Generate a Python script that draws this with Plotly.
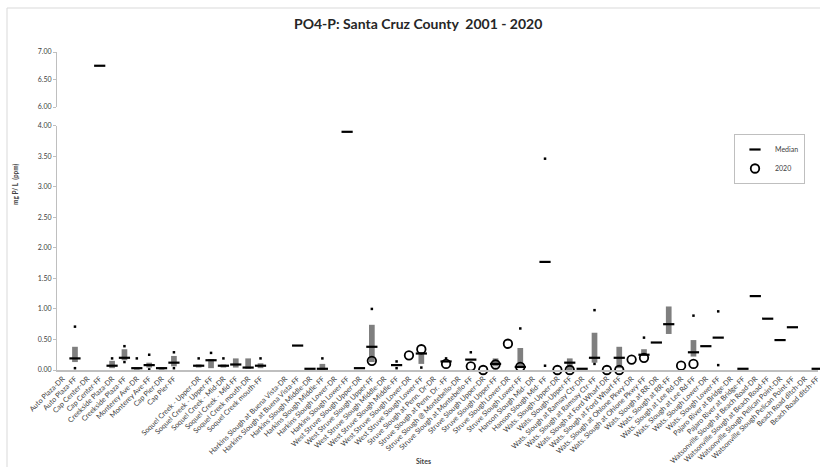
import plotly.graph_objects as go

N = None

sites = [
    "Auto Plaza-DR", "Auto Plaza-FF", "Cap Center-DR", "Cap Center-FF",
    "Creekside Plaza-DR", "Creekside Plaza-FF", "Monterey Ave-DR", "Monterey Ave-FF",
    "Cap Pier-DR", "Cap Pier-FF", " ",
    "Soquel Creek - Upper-DR", "Soquel Creek - Upper-FF", "Soquel Creek - Mid-DR",
    "Soquel Creek - Mid-FF", "Soquel Creek mouth-DR", "Soquel Creek mouth-FF", "  ",
    "Harkins Slough at Buena Vista-DR", "Harkins Slough at Buena Vista-FF",
    "Harkins Slough Middle-DR", "Harkins Slough Middle-FF",
    "Harkins Slough Lower-DR", "Harkins Slough Lower-FF",
    "West Struve Slough Upper-DR", "West Struve Slough Upper-FF",
    "West Struve Slough Middle-DR", "West Struve Slough Middle-FF",
    "West Struve Slough Lower-DR", "West Struve Slough Lower-FF",
    "Struve Slough at Penn. Dr-DR", "Struve Slough at Penn. Dr. -FF",
    "Struve Slough @ Montebello-DR", "Struve Slough at Montebello-FF",
    "Struve Slough Upper-DR", "Struve Slough Upper-FF",
    "Struve Slough Lower-DR", "Struve Slough Lower-FF",
    "Hanson Slough Mid- DR", "Hanson Slough Mid- FF",
    "Wats. Slough-Upper-DR", "Wats. Slough-Upper-FF",
    "Wats. Slough at Ramsay Ctr-DR", "Wats. Slough at Ramsay Ctr-FF",
    "Wats. Slough at Ford Wharf-DR", "Wats. Slough at Ford Wharf-FF",
    "Wats. Slough at Ohlone Pkwy-DR", "Wats. Slough at Ohlone Pkwy-FF",
    "Wats. Slough at RR-DR", "Wats. Slough at RR-FF",
    "Wats. Slough at Lee Rd-DR", "Wats. Slough at Lee Rd-FF",
    "Wats. Slough Lower-DR", "Wats. Slough Lower-FF",
    "Pajaro River at Bridge-DR", "Pajaro River at Bridge-FF",
    "Watsonville Slough at Beach Road-DR", "Watsonville Slough at Beach Road-FF",
    "Watsonville Slough Pelican Point-DR", "Watsonville Slough Pelican Point-FF",
    "Beach Road ditch-DR", "Beach Road ditch-FF",
]

median = [
    N, 0.19, N, 6.75, 0.07, 0.20, 0.03, 0.08, 0.03, 0.12, N,
    0.07, 0.16, 0.07, 0.09, 0.04, 0.07, N,
    N, 0.40, 0.02, 0.02, N, 3.90,
    0.03, 0.38, N, 0.08, N, 0.27,
    N, 0.14, N, 0.17, N, 0.10, N, 0.05,
    N, 1.77,
    N, 0.12, 0.02, 0.20, N, 0.20, N, 0.25, 0.45, 0.75, N, 0.29, 0.39, 0.53,
    N, 0.02, 1.21, 0.84, 0.49, 0.70, N, 0.02,
]

q1 = [
    N, 0.13, N, N, 0.03, 0.16, 0.01, 0.04, 0.01, 0.06, N,
    0.04, 0.03, 0.04, 0.04, 0.02, 0.03, N,
    N, N, N, 0.00, N, N,
    N, 0.13, N, N, N, 0.10,
    N, N, N, N, N, 0.06, N, 0.04,
    N, N,
    N, 0.00, N, 0.12, N, 0.03, N, 0.24, N, 0.59, N, 0.22, N, N,
    N, N, N, N, N, N, N, N,
]

q3 = [
    N, 0.38, N, N, 0.15, 0.34, 0.04, 0.12, 0.04, 0.23, N,
    0.09, 0.18, 0.09, 0.19, 0.19, 0.11, N,
    N, N, N, 0.10, N, N,
    N, 0.74, N, N, N, 0.29,
    N, N, N, N, N, 0.19, N, 0.36,
    N, N,
    N, 0.19, N, 0.61, N, 0.38, N, 0.34, N, 1.04, N, 0.49, N, N,
    N, N, N, N, N, N, N, N,
]

max_v = [
    N, 0.71, N, N, 0.19, 0.39, 0.19, 0.25, N, 0.29, N,
    0.19, 0.28, 0.19, N, N, 0.19, N,
    N, N, N, 0.19, N, N,
    N, 1.00, N, 0.14, N, N,
    N, 0.19, N, 0.29, N, N, N, 0.68,
    N, 3.46,
    N, N, N, 0.98, N, N, N, 0.53, N, N, N, 0.89, N, 0.96,
    N, N, N, N, N, N, N, N,
]

min_v = [
    N, 0.03, N, N, N, 0.13, N, 0.01, N, 0.03, N,
    N, N, N, N, N, N, N,
    N, N, N, N, N, N,
    N, N, N, 0.03, N, 0.04,
    N, N, N, N, N, N, N, N,
    N, 0.07,
    N, N, N, 0.10, N, N, N, N, N, N, N, N, N, 0.08,
    N, N, N, N, N, N, N, N,
]

y2020 = [
    N, N, N, N, N, N, N, N, N, N, N,
    N, N, N, N, N, N, N,
    N, N, N, N, N, N,
    N, 0.15, N, N, 0.24, 0.34,
    N, 0.10, N, 0.06, 0.00, 0.09, 0.43, 0.05,
    N, N,
    0.00, 0.00, N, N, 0.00, 0.00, 0.17, 0.20, N, N, 0.07, 0.10, N, N,
    N, N, N, N, N, N, N, N,
]

BREAK = 5.0
FONT = "Lato, Carlito, Calibri, sans-serif"

W, H = 820, 467
L, R = 57, 2
PW = W - L - R


def px_x(p):
    return (p - L) / PW


def px_y(p):
    return (H - p) / H


fig = go.Figure()

# interquartile bars
bx = [s for s, a, b in zip(sites, q1, q3) if a is not None and b is not None]
bb = [a for a, b in zip(q1, q3) if a is not None and b is not None]
bh = [b - a for a, b in zip(q1, q3) if a is not None and b is not None]
fig.add_trace(go.Bar(x=bx, y=bh, base=bb, width=0.46, marker=dict(color="#7f7f7f", line=dict(width=0)),
                     showlegend=False, hoverinfo="skip"))

# min / max dots
for arr in (max_v, min_v):
    xs = [s for s, v in zip(sites, arr) if v is not None]
    ys = [v for v in arr if v is not None]
    fig.add_trace(go.Scatter(x=xs, y=ys, mode="markers", showlegend=False, cliponaxis=False,
                             marker=dict(symbol="square", size=2.5, color="black")))

# medians (lower panel)
mx = [s for s, v in zip(sites, median) if v is not None and v < BREAK]
my = [v for v in median if v is not None and v < BREAK]
med_marker = dict(symbol="line-ew", size=8, color="black", line=dict(width=2.2, color="black"))
fig.add_trace(go.Scatter(x=mx, y=my, mode="markers", name="Median", cliponaxis=False,
                         marker=med_marker))
# medians (upper panel)
ux = [s for s, v in zip(sites, median) if v is not None and v >= BREAK]
uy = [v for v in median if v is not None and v >= BREAK]
fig.add_trace(go.Scatter(x=ux, y=uy, mode="markers", name="Median", showlegend=False, yaxis="y2",
                         cliponaxis=False, marker=med_marker))

# 2020 values
cx = [s for s, v in zip(sites, y2020) if v is not None]
cy = [v for v in y2020 if v is not None]
fig.add_trace(go.Scatter(x=cx, y=cy, mode="markers", name="2020", cliponaxis=False,
                         marker=dict(symbol="circle-open", size=8.5, color="black",
                                     line=dict(width=1.8, color="black"))))

x0 = -(62.6 - L) / 12.37
x1 = x0 + PW / 12.37

fig.update_layout(
    width=W, height=H,
    margin=dict(l=L, r=R, t=0, b=0, autoexpand=False),
    paper_bgcolor="white", plot_bgcolor="white",
    font=dict(family=FONT, size=7, color="#404040"),
    barmode="overlay",
    showlegend=True,
    legend=dict(x=px_x(734), y=px_y(134), xanchor="left", yanchor="top",
                bordercolor="#bfbfbf", borderwidth=1, bgcolor="white",
                font=dict(size=7, color="#404040", family=FONT),
                itemwidth=30, tracegroupgap=4),
    xaxis=dict(type="category", categoryorder="array", categoryarray=sites,
               range=[x0, x1], tickangle=-45, tickfont=dict(size=7.2, color="#404040", family=FONT),
               showline=True, linecolor="#bfbfbf", linewidth=1.5, ticks="",
               showgrid=False, zeroline=False, automargin=False, anchor="y"),
    yaxis=dict(domain=[px_y(370), px_y(125.7)], range=[0, 4], tickvals=[0, 0.5, 1, 1.5, 2, 2.5, 3, 3.5, 4],
               tickformat=".2f", showline=True, linecolor="#bfbfbf", linewidth=1,
               tickfont=dict(size=7, color="#404040", family=FONT),
               ticks="outside", ticklen=3, tickcolor="#bfbfbf", showgrid=False, zeroline=False,
               automargin=False, anchor="x"),
    yaxis2=dict(domain=[px_y(107), px_y(52)], range=[6, 7], tickvals=[6, 6.5, 7],
                tickformat=".2f", showline=True, linecolor="#bfbfbf", linewidth=1,
                tickfont=dict(size=7, color="#404040", family=FONT),
                ticks="outside", ticklen=3, tickcolor="#bfbfbf", showgrid=False, zeroline=False,
                automargin=False, anchor="x"),
    annotations=[
        dict(text="<b>PO4-P: Santa Cruz County \u00a02001 - 2020</b>", x=px_x(418), y=px_y(23),
             xref="paper", yref="paper", showarrow=False, xanchor="center", yanchor="middle",
             font=dict(size=14, color="#262626", family=FONT)),
        dict(text="<b>mg P/ L \u00a0(ppm)</b>", x=px_x(15), y=px_y(184), xref="paper", yref="paper",
             showarrow=False, textangle=-90, xanchor="center", yanchor="middle",
             font=dict(size=6.5, color="#404040", family=FONT)),
        dict(text="<b>Sites</b>", x=px_x(423), y=px_y(461), xref="paper", yref="paper",
             showarrow=False, xanchor="center", yanchor="middle",
             font=dict(size=7, color="#404040", family=FONT)),
    ],
    shapes=[
        dict(type="rect", xref="paper", yref="paper", x0=px_x(7), x1=px_x(835), y0=px_y(490), y1=px_y(8),
             line=dict(color="#d9d9d9", width=1), fillcolor="rgba(0,0,0,0)", layer="below"),
    ],
)

fig.write_html("out.html", config={"displayModeBar": False},
               post_script="document.body.style.margin='0px';document.body.style.overflow='hidden';")
